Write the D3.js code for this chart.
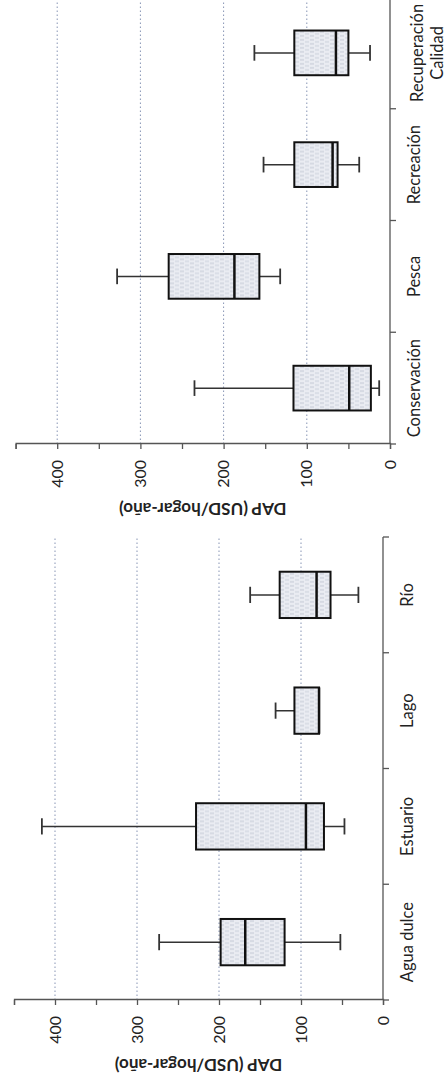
<!DOCTYPE html>
<html>
<head>
<meta charset="utf-8">
<script src="https://cdn.jsdelivr.net/npm/d3@7"></script>
<style>
	body { margin: 0; background: #fff; }
	svg { display: block; }
	text { font-family: Lato, "Liberation Sans", sans-serif; fill: #222; }
</style>
</head>
<body>
<svg id="chart" width="447" height="1080"></svg>
<script>
// tipo de ecosistema (grafico de abajo)
const catsEco = ["Agua dulce", "Estuario", "Lago", "Río"];
const minEco = [52, 47, 78, 30];
const q1Eco = [120, 72, 78, 64];
const medEco = [168, 94, 78, 81];
const q3Eco = [198, 228, 108, 126];
const maxEco = [273, 416, 131, 162];

// tipo de servicio (grafico de arriba)
const catsServ = ["Conservación", "Pesca", "Recreación", "Recuperación\nCalidad"];
const minServ = [13, 132, 37, 24];
const q1Serv = [23, 157, 63, 50];
const medServ = [49, 187, 69, 65];
const q3Serv = [116, 266, 115, 115];
const maxServ = [235, 328, 152, 163];

const valueTicks = [0, 50, 100, 150, 200, 250, 300, 350, 400, 450];
const gridValues = [100, 200, 300, 400];
const axisTitle = "DAP (USD/hogar-año)";

let svg = d3.select("#chart");

// textura de las cajas
let defs = svg.append("defs");
let pat = defs
	.append("pattern")
	.attr("id", "tex")
	.attr("patternUnits", "userSpaceOnUse")
	.attr("width", 4)
	.attr("height", 10);
pat.append("rect").attr("width", 4).attr("height", 10).attr("fill", "#eaecf2");
pat.append("line")
	.attr("x1", 1).attr("x2", 1).attr("y1", 0).attr("y2", 4)
	.attr("stroke", "#b7bdcc").attr("stroke-width", 0.8);
pat.append("line")
	.attr("x1", 3).attr("x2", 3).attr("y1", 5).attr("y2", 9)
	.attr("stroke", "#c3c8d5").attr("stroke-width", 0.8);

// the whole chart is drawn upright and then turned -90 deg
function drawBoxChart(opt) {
	let rows = opt.cats.map((c, i) => ({
		name: c,
		min: opt.min[i],
		q1: opt.q1[i],
		med: opt.med[i],
		q3: opt.q3[i],
		max: opt.max[i],
	}));

	let g = svg
		.append("g")
		.attr("transform", `translate(0, ${opt.originY}) rotate(-90)`);

	let x = d3.scaleBand().domain(opt.cats).range([0, opt.catLen]);
	let y = d3.scaleLinear().domain([0, 450]).range([opt.zeroPos, opt.topPos]);
	let bw = x.bandwidth();

	// gridlines
	g.selectAll("line.grid")
		.data(gridValues)
		.join("line")
		.classed("grid", true)
		.attr("x1", 0)
		.attr("x2", opt.catLen)
		.attr("y1", (d) => y(d))
		.attr("y2", (d) => y(d))
		.attr("stroke", "#8794b4")
		.attr("stroke-width", 1)
		.attr("stroke-dasharray", "1.5,2.5");

	// value axis
	let yAxis = d3
		.axisLeft(y)
		.tickValues(valueTicks)
		.tickSize(5)
		.tickPadding(11)
		.tickFormat((d) => (d % 100 === 0 ? d : ""));
	let yG = g.append("g").call(yAxis);
	yG.select(".domain").attr("stroke", "#555").attr("stroke-width", 1.3);
	yG.selectAll(".tick line").attr("stroke", "#555").attr("stroke-width", 1.3);
	yG.selectAll(".tick text")
		.attr("font-size", 16)
		.attr("font-family", "Lato, sans-serif")
		.attr("fill", "#222");

	// category axis
	g.append("line")
		.attr("x1", 0)
		.attr("x2", opt.catLen)
		.attr("y1", y(0))
		.attr("y2", y(0))
		.attr("stroke", "#555")
		.attr("stroke-width", 1.3);
	let bounds = opt.cats.map((c) => x(c)).concat([opt.catLen]);
	g.selectAll("line.ctick")
		.data(bounds)
		.join("line")
		.classed("ctick", true)
		.attr("x1", (d) => d)
		.attr("x2", (d) => d)
		.attr("y1", y(0))
		.attr("y2", y(0) + 6)
		.attr("stroke", "#555")
		.attr("stroke-width", 1.3);

	let labels = g
		.selectAll("text.cat")
		.data(opt.cats)
		.join("text")
		.classed("cat", true)
		.attr("text-anchor", "middle")
		.attr("font-size", 16.5);
	labels.each(function (d) {
		let lines = d.split("\n");
		let t = d3.select(this);
		lines.forEach((ln, i) => {
			t.append("tspan")
				.attr("x", x(d) + bw / 2)
				.attr("y", y(0) + (lines.length > 1 ? 33 + 20 * i : 30))
				.text(ln);
		});
	});

	// axis title
	g.append("text")
		.attr("transform", `translate(-63, ${(y(0) + y(450)) / 2}) rotate(-90)`)
		.attr("text-anchor", "middle")
		.attr("dominant-baseline", "middle")
		.attr("font-size", 17)
		.attr("font-weight", "bold")
		.text(axisTitle);

	// boxes
	let boxG = g
		.selectAll("g.box")
		.data(rows)
		.join("g")
		.classed("box", true)
		.attr("transform", (d) => `translate(${x(d.name) + bw / 2}, 0)`);

	boxG.append("line")
		.attr("y1", (d) => y(d.max))
		.attr("y2", (d) => y(d.min))
		.attr("stroke", "#333")
		.attr("stroke-width", 1.5);

	boxG.selectAll("line.cap")
		.data((d) => [d.min, d.max])
		.join("line")
		.classed("cap", true)
		.attr("x1", -bw * 0.07)
		.attr("x2", bw * 0.07)
		.attr("y1", (v) => y(v))
		.attr("y2", (v) => y(v))
		.attr("stroke", "#333")
		.attr("stroke-width", 1.8);

	boxG.append("rect")
		.attr("x", -bw * 0.2)
		.attr("width", bw * 0.4)
		.attr("y", (d) => y(d.q3))
		.attr("height", (d) => y(d.q1) - y(d.q3))
		.attr("fill", "url(#tex)")
		.attr("stroke", "#111")
		.attr("stroke-width", 2);

	boxG.append("line")
		.attr("x1", -bw * 0.2)
		.attr("x2", bw * 0.2)
		.attr("y1", (d) => y(d.med))
		.attr("y2", (d) => y(d.med))
		.attr("stroke", "#111")
		.attr("stroke-width", 2.5);
}

drawBoxChart({
	cats: catsServ,
	min: minServ,
	q1: q1Serv,
	med: medServ,
	q3: q3Serv,
	max: maxServ,
	originY: 444,
	catLen: 447,
	zeroPos: 390,
	topPos: 15.6,
});

drawBoxChart({
	cats: catsEco,
	min: minEco,
	q1: q1Eco,
	med: medEco,
	q3: q3Eco,
	max: maxEco,
	originY: 1000,
	catLen: 463,
	zeroPos: 383,
	topPos: 14,
});
</script>
</body>
</html>
